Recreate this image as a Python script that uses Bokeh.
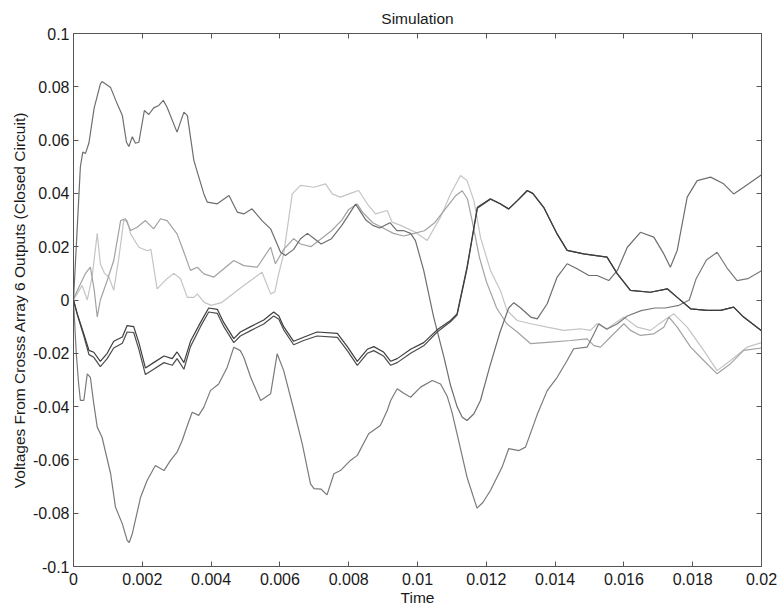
from bokeh.plotting import figure
from bokeh.models import Range1d, FixedTicker, LinearAxis, CustomJSTickFormatter
from bokeh.embed import file_html
from bokeh.resources import INLINE

# ---- data (time in seconds, voltage in volts) ----
t_c1 = [0, 0.0001, 0.0002, 0.00027, 0.00035, 0.00045, 0.0006, 0.00078, 0.00083, 0.00108, 0.00127, 0.00142,
        0.00154, 0.00161, 0.00171, 0.0018, 0.0019, 0.00206, 0.00219, 0.00233, 0.00248, 0.00261, 0.00272,
        0.00301, 0.00321, 0.00331, 0.0035, 0.00379, 0.00389, 0.00418, 0.00452, 0.00476, 0.00495, 0.00519,
        0.00548, 0.00573, 0.00602, 0.00616, 0.0064, 0.0066, 0.0068, 0.007, 0.0072, 0.0075, 0.0078, 0.00805,
        0.0082, 0.0083, 0.0085, 0.0087, 0.0089, 0.0092, 0.0094, 0.0096, 0.0098, 0.00994, 0.01018, 0.01047,
        0.01077, 0.01096, 0.01115, 0.0113, 0.01144, 0.01164, 0.01183, 0.0121, 0.0124, 0.01265, 0.0128, 0.013,
        0.01329, 0.01348, 0.01377, 0.01406, 0.01435, 0.01464, 0.01498, 0.01522, 0.01556, 0.01581, 0.0161,
        0.01648, 0.01687, 0.01716, 0.01735, 0.01755, 0.01784, 0.01813, 0.01852, 0.0189, 0.01919, 0.01948, 0.02]
v_c1 = [0, 0.025, 0.05, 0.0555, 0.055, 0.059, 0.072, 0.081, 0.082, 0.0797, 0.0736, 0.0692,
        0.0592, 0.0576, 0.0613, 0.0588, 0.0592, 0.0711, 0.0696, 0.0721, 0.073, 0.0749, 0.0723,
        0.063, 0.0705, 0.0692, 0.0523, 0.0398, 0.0367, 0.0361, 0.0392, 0.033, 0.0323, 0.0342,
        0.0298, 0.0267, 0.0179, 0.0167, 0.019, 0.023, 0.025, 0.023, 0.021, 0.023, 0.028, 0.033,
        0.036, 0.034, 0.030, 0.028, 0.027, 0.029, 0.026, 0.026, 0.025, 0.0223, 0.0111, -0.0064,
        -0.0215, -0.032, -0.040, -0.044, -0.0452, -0.0427, -0.0377, -0.025, -0.012, -0.003, -0.001, -0.003,
        -0.0064, -0.0071, -0.0014, 0.0086, 0.0136, 0.0117, 0.0092, 0.0092, 0.0073, 0.0111, 0.0198,
        0.0254, 0.0236, 0.0173, 0.0123, 0.0186, 0.0386, 0.0448, 0.0461, 0.0436, 0.0398, 0.0423, 0.047]

t_c2 = [0, 0.00008, 0.00015, 0.0002, 0.0003, 0.0004, 0.00049, 0.00059, 0.00069, 0.00083, 0.00108, 0.00122,
        0.00142, 0.00156, 0.00162, 0.00171, 0.00195, 0.00214, 0.00238, 0.00263, 0.00282, 0.00301, 0.00316,
        0.00331, 0.00345, 0.00364, 0.00379, 0.00398, 0.00422, 0.00447, 0.00466, 0.00485, 0.00495, 0.00515,
        0.00544, 0.00573, 0.00592, 0.00611, 0.0064, 0.00665, 0.00689, 0.00699, 0.0072, 0.00737, 0.00757,
        0.00776, 0.00805, 0.00825, 0.00858, 0.00892, 0.00912, 0.00922, 0.00941, 0.0096, 0.0098, 0.01009,
        0.01043, 0.01067, 0.01086, 0.011, 0.01115, 0.01144, 0.01173, 0.0119, 0.01212, 0.01246, 0.01265,
        0.01295, 0.01314, 0.01348, 0.01377, 0.01406, 0.01435, 0.01454, 0.01493, 0.01513, 0.01527, 0.0155,
        0.0158, 0.0161, 0.0165, 0.0169, 0.0172, 0.0176, 0.0179, 0.0181, 0.0184, 0.01871, 0.019, 0.01929,
        0.0196, 0.02]
v_c2 = [0, -0.02, -0.0315, -0.0377, -0.0377, -0.0277, -0.029, -0.039, -0.0477, -0.0515, -0.0652, -0.0777,
        -0.084, -0.0902, -0.091, -0.0877, -0.074, -0.0677, -0.0621, -0.064, -0.0602, -0.0571, -0.0527,
        -0.0471, -0.0421, -0.0433, -0.0402, -0.034, -0.0315, -0.0252, -0.0177, -0.019, -0.0215, -0.029,
        -0.0377, -0.0352, -0.0202, -0.0265, -0.041, -0.054, -0.069, -0.0708, -0.071, -0.0731, -0.0652,
        -0.064, -0.0602, -0.0583, -0.0502, -0.0471, -0.0415, -0.0377, -0.0333, -0.035, -0.0365, -0.0327,
        -0.0302, -0.0315, -0.036, -0.042, -0.0502, -0.0665, -0.0781, -0.076, -0.0715, -0.0627, -0.0558,
        -0.0565, -0.0552, -0.043, -0.034, -0.029, -0.0227, -0.0183, -0.0177, -0.0127, -0.0089, -0.011,
        -0.009, -0.006, -0.004, -0.003, -0.003, -0.002, 0.0, 0.008, 0.015, 0.0179, 0.012, 0.0073,
        0.008, 0.011]

t_d = [0, 0.00011, 0.0003, 0.00045, 0.00059, 0.00078, 0.00098, 0.00117, 0.00142, 0.00156, 0.00175, 0.0019,
       0.00209, 0.00233, 0.00263, 0.00287, 0.00301, 0.00321, 0.0034, 0.00369, 0.00393, 0.00418, 0.00437,
       0.00466, 0.00485, 0.00515, 0.00553, 0.00582, 0.00597, 0.00611, 0.0064, 0.00669, 0.00708, 0.00767,
       0.00796, 0.00825, 0.00854, 0.00873, 0.00901, 0.00922, 0.00941, 0.0098, 0.01018, 0.01057, 0.01096,
       0.01115, 0.01144, 0.01174, 0.01212, 0.01241, 0.01265, 0.0129, 0.01319, 0.01335, 0.01367, 0.01406,
       0.01435, 0.01483, 0.01551, 0.01581, 0.01619, 0.01677, 0.01726, 0.01755, 0.01794, 0.01842, 0.01881,
       0.01919, 0.01948, 0.02]
v_d1 = [0, -0.0052, -0.0127, -0.0189, -0.0196, -0.023, -0.02, -0.0155, -0.0139, -0.0096, -0.01, -0.016,
        -0.0255, -0.0235, -0.021, -0.022, -0.0195, -0.0235, -0.0155, -0.0085, -0.003, -0.0035, -0.0085,
        -0.0145, -0.012, -0.01, -0.0075, -0.0045, -0.006, -0.01, -0.0155, -0.014, -0.012, -0.0125,
        -0.0175, -0.023, -0.0185, -0.0175, -0.0195, -0.023, -0.022, -0.0185, -0.016, -0.0112, -0.0077,
        -0.0052, 0.0123, 0.0348, 0.038, 0.0361, 0.0342, 0.0373, 0.0411, 0.040, 0.0348, 0.0248,
        0.0186, 0.0173, 0.0161, 0.0098, 0.0036, 0.0029, 0.0042, 0.001, -0.0033, -0.0039, -0.0039,
        -0.0027, -0.0064, -0.0115]
v_d2 = [0, -0.0055, -0.0135, -0.0205, -0.0215, -0.025, -0.022, -0.018, -0.0162, -0.012, -0.0122, -0.0185,
        -0.028, -0.026, -0.0235, -0.0245, -0.022, -0.026, -0.0175, -0.01, -0.0045, -0.005, -0.01,
        -0.016, -0.0135, -0.0115, -0.009, -0.006, -0.0072, -0.0112, -0.0168, -0.0152, -0.0135, -0.014,
        -0.019, -0.0245, -0.02, -0.019, -0.021, -0.0245, -0.0235, -0.02, -0.0172, -0.012, -0.0082,
        -0.0057, 0.0118, 0.0344, 0.0378, 0.036, 0.0341, 0.0372, 0.041, 0.040, 0.0347, 0.0247,
        0.0186, 0.0173, 0.0161, 0.0098, 0.0036, 0.0029, 0.0042, 0.001, -0.0033, -0.0039, -0.0039,
        -0.0027, -0.0064, -0.0115]

t_l1 = [0, 0.0002, 0.00035, 0.00049, 0.0006, 0.00069, 0.00078, 0.00098, 0.00117, 0.00137, 0.00151, 0.00166,
        0.00185, 0.00209, 0.00233, 0.00253, 0.00272, 0.00301, 0.00321, 0.0034, 0.0036, 0.00379, 0.00408,
        0.00437, 0.00466, 0.00495, 0.00534, 0.00573, 0.00587, 0.00611, 0.0064, 0.0066, 0.0069, 0.0072,
        0.0075, 0.0078, 0.008, 0.00825, 0.0084, 0.0087, 0.009, 0.0093, 0.0096, 0.0099, 0.0102, 0.0105,
        0.0108, 0.0111, 0.0113, 0.01145, 0.0116, 0.0118, 0.012, 0.0123, 0.0126, 0.0129, 0.01329, 0.01387,
        0.01445, 0.01493, 0.01513, 0.01532, 0.01561, 0.016, 0.01619, 0.01648, 0.01687, 0.01716, 0.01731,
        0.01755, 0.01794, 0.01832, 0.01871, 0.0191, 0.01948, 0.02]
v_l1 = [0.0005, 0.006, 0.01, 0.0123, 0.004, -0.0064, 0.0, 0.0073, 0.0148, 0.0298, 0.0305, 0.0261,
        0.0273, 0.0298, 0.0267, 0.0305, 0.0298, 0.0248, 0.0179, 0.0111, 0.0123, 0.0098, 0.0086,
        0.0117, 0.0148, 0.0129, 0.0123, 0.0198, 0.0136, 0.019, 0.023, 0.021, 0.020, 0.023,
        0.026, 0.030, 0.034, 0.036, 0.033, 0.029, 0.027, 0.025, 0.024, 0.025, 0.026, 0.029,
        0.034, 0.039, 0.041, 0.038, 0.029, 0.016, 0.007, -0.003, -0.009, -0.012, -0.0164, -0.0158,
        -0.0152, -0.0146, -0.0171, -0.0177, -0.0139, -0.0089, -0.0114, -0.0133, -0.0127, -0.0102, -0.0064,
        -0.0102, -0.0177, -0.0227, -0.0277, -0.0239, -0.0189, -0.018]

t_l2 = [0, 0.00025, 0.0004, 0.00054, 0.00069, 0.00078, 0.0009, 0.00103, 0.00117, 0.00132, 0.00146, 0.00156,
        0.00166, 0.0019, 0.00214, 0.00225, 0.00243, 0.00272, 0.00292, 0.00311, 0.00331, 0.0035, 0.0036,
        0.00379, 0.004, 0.0043, 0.0046, 0.0049, 0.00515, 0.00548, 0.00573, 0.00585, 0.00595, 0.00611,
        0.00625, 0.00636, 0.0066, 0.00699, 0.00733, 0.00752, 0.00776, 0.00805, 0.00829, 0.00854, 0.00878,
        0.00912, 0.00926, 0.00951, 0.00994, 0.01028, 0.01067, 0.01096, 0.01125, 0.01144, 0.01164, 0.01183,
        0.01212, 0.01241, 0.0126, 0.0129, 0.01329, 0.01377, 0.01425, 0.01474, 0.01503, 0.01522, 0.01551,
        0.016, 0.01639, 0.01677, 0.01716, 0.01745, 0.01784, 0.01832, 0.01871, 0.0191, 0.01958, 0.02]
v_l2 = [0, 0.0055, 0.0, 0.0086, 0.025, 0.0136, 0.01, 0.0086, 0.0036, 0.016, 0.0298, 0.0298,
        0.0248, 0.0198, 0.0185, 0.019, 0.0042, 0.008, 0.010, 0.008, 0.001, 0.001, 0.0023,
        -0.0008, -0.002, -0.001, 0.002, 0.005, 0.0073, 0.0104, 0.0023, 0.003, 0.009, 0.0173,
        0.030, 0.0398, 0.043, 0.0423, 0.0436, 0.0398, 0.0386, 0.040, 0.0411, 0.0361, 0.0323,
        0.0336, 0.0292, 0.028, 0.0254, 0.0223, 0.0311, 0.0398, 0.0467, 0.0448, 0.0373, 0.0236,
        0.0111, 0.0036, -0.0039, -0.0077, -0.0089, -0.0102, -0.0114, -0.0108, -0.0114, -0.0089, -0.0108,
        -0.0064, -0.0102, -0.0114, -0.0077, -0.0052, -0.0102, -0.0189, -0.0265, -0.0227, -0.0177, -0.016]

series = [
    (t_l2, v_l2, "#c4c4c4"),
    (t_l1, v_l1, "#a2a2a2"),
    (t_c2, v_c2, "#7a7a7a"),
    (t_c1, v_c1, "#6e6e6e"),
    (t_d, v_d2, "#4c4c4c"),
    (t_d, v_d1, "#3e3e3e"),
]

x_ticks = [0, 0.002, 0.004, 0.006, 0.008, 0.01, 0.012, 0.014, 0.016, 0.018, 0.02]
x_tick_labels = ["0", "0.002", "0.004", "0.006", "0.008", "0.01", "0.012", "0.014", "0.016", "0.018", "0.02"]
y_ticks = [-0.1, -0.08, -0.06, -0.04, -0.02, 0, 0.02, 0.04, 0.06, 0.08, 0.1]
y_tick_labels = ["-0.1", "-0.08", "-0.06", "-0.04", "-0.02", "0", "0.02", "0.04", "0.06", "0.08", "0.1"]

FONT = "Liberation Sans"

p = figure(width=779, height=613, output_backend="svg", toolbar_location=None,
           x_range=Range1d(0, 0.02), y_range=Range1d(-0.1, 0.1),
           min_border_left=73, min_border_right=18, min_border_top=33, min_border_bottom=47,
           title="Simulation")
p.title.align = "center"
p.title.text_font = FONT
p.title.text_font_size = "15.5px"
p.title.text_font_style = "normal"
p.title.text_color = "#1a1a1a"
p.title.standoff = 14

p.xgrid.visible = False
p.ygrid.visible = False
p.outline_line_color = None
p.background_fill_color = "white"
p.border_fill_color = "white"

for t, v, c in series:
    p.line(t, v, line_color=c, line_width=1.2)

def style_axis(ax):
    ax.axis_line_color = "#555555"
    ax.major_tick_line_color = "#555555"
    ax.major_tick_in = 5
    ax.major_tick_out = 0
    ax.minor_tick_line_color = None
    ax.major_label_text_font = FONT
    ax.major_label_text_font_size = "16px"
    ax.major_label_text_color = "#1a1a1a"
    ax.axis_label_text_font = FONT
    ax.axis_label_text_font_size = "15.5px"
    ax.axis_label_text_font_style = "normal"
    ax.axis_label_text_color = "#1a1a1a"

xax = p.xaxis[0]
xax.ticker = FixedTicker(ticks=x_ticks)
xax.major_label_overrides = {k: s for k, s in zip(x_ticks, x_tick_labels)}
xax.axis_label = "Time"
style_axis(xax)
xax.major_label_standoff = 6
xax.axis_label_standoff = 1

yax = p.yaxis[0]
yax.ticker = FixedTicker(ticks=y_ticks)
yax.major_label_overrides = {k: s for k, s in zip(y_ticks, y_tick_labels)}
yax.axis_label = "Voltages From Crosss Array 6 Outputs (Closed Circuit)"
style_axis(yax)
yax.major_label_standoff = 4
yax.axis_label_standoff = 2

blank = CustomJSTickFormatter(code="return '';")
top = LinearAxis(ticker=FixedTicker(ticks=x_ticks), formatter=blank)
style_axis(top)
top.major_label_standoff = 0
p.add_layout(top, "above")
right = LinearAxis(ticker=FixedTicker(ticks=y_ticks), formatter=blank)
style_axis(right)
right.major_label_standoff = 0
p.add_layout(right, "right")

open("out.html", "w").write(file_html(p, INLINE))
